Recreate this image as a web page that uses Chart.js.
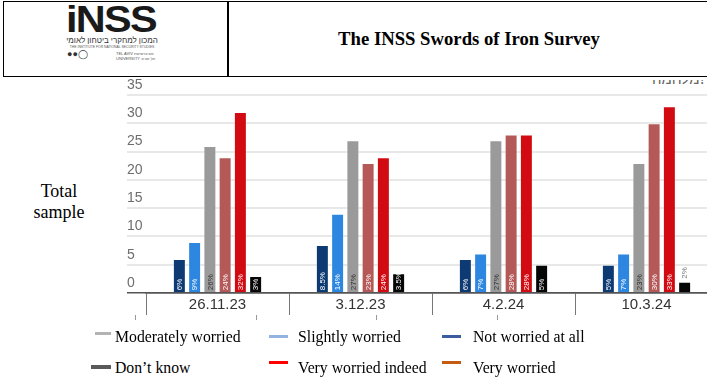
<!DOCTYPE html>
<html>
<head>
<meta charset="utf-8">
<script src="https://cdn.jsdelivr.net/npm/chart.js@4"></script>
<style>
  html, body { margin: 0; padding: 0; background: #fff; }
  body { width: 707px; height: 390px; overflow: hidden; position: relative; font-family: 'Liberation Serif', 'Times New Roman', serif; }
  .box { position: absolute; left: 3px; top: 1px; width: 720px; height: 74px; border: 1.5px solid #000; }
  .divider { position: absolute; left: 227px; top: 1px; width: 1.5px; height: 75px; background: #000; }
  .title { position: absolute; left: 228px; width: 482px; top: 28px; text-align: center; font-weight: bold; font-size: 18.7px; color: #000; }
  .logo { position: absolute; left: 66px; top: 4px; width: 94px; color: #1a1a1a; font-family: 'Liberation Sans', sans-serif; }
  .logo .big { font-size: 37px; font-weight: 900; letter-spacing: -1.5px; line-height: 31px; transform: scaleX(1.12); transform-origin: left; }
  .logo .heb { font-family: 'Noto Sans', sans-serif; font-size: 8px; line-height: 10px; direction: rtl; text-align: center; width: 92px; white-space: nowrap; color: #333; }
  .logo .eng { font-size: 3.4px; line-height: 5px; white-space: nowrap; color: #555; text-align: center; width: 92px; }
  .logo .dots { position: absolute; top: 45px; left: 1px; font-size: 9px; color: #333; }
  .logo .tau { position: absolute; top: 48px; left: 50px; font-size: 4px; line-height: 4.5px; color: #555; white-space: nowrap; }
  .cut { position: absolute; top: 80px; right: 1px; width: 55px; height: 7px; overflow: hidden; }
  .cut span { position: absolute; right: 0; top: -12px; font-family: 'Noto Sans', sans-serif; font-size: 15px; color: #666; direction: rtl; }
  .side { position: absolute; left: 22px; top: 181px; width: 74px; text-align: center; font-size: 18px; line-height: 21px; color: #000; }
  #wrap { position: absolute; left: 127px; top: 76px; }
  .lg { position: absolute; font-size: 17.5px; color: #000; white-space: nowrap; transform: scaleX(0.9); transform-origin: left; }
  .mk { position: absolute; height: 3px; }
  .tk { position: absolute; top: 315px; width: 1px; height: 5px; background: #999; }
</style>
</head>
<body>
<div class="box"></div>
<div class="divider"></div>
<div class="logo">
  <div class="big">iNSS</div>
  <div class="heb">המכון למחקרי ביטחון לאומי</div>
  <div class="eng">THE INSTITUTE FOR NATIONAL SECURITY STUDIES</div>
  <div class="dots">&#9679;&#9679;&#9711;</div>
  <div class="tau">TEL AVIV אוניברסיטת<br>UNIVERSITY תל אביב</div>
</div>
<div class="title">The INSS Swords of Iron Survey</div>
<div class="cut"><span>?מלחמה</span></div>
<div class="side">Total<br>sample</div>

<div id="wrap"><canvas id="chart" width="600" height="245"></canvas></div>

<div class="tk" style="left:135px"></div>
<div class="tk" style="left:256px"></div>
<div class="tk" style="left:376px"></div>
<div class="tk" style="left:497px"></div>

<div class="mk" style="left:95px;top:332px;width:16px;background:#b3b3b3"></div>
<div class="lg" style="left:115px;top:326px">Moderately worried</div>
<div class="mk" style="left:269px;top:335px;width:19px;background:#93b4e0"></div>
<div class="lg" style="left:298px;top:326px">Slightly worried</div>
<div class="mk" style="left:442px;top:335px;width:19px;background:#3b5c9e"></div>
<div class="lg" style="left:473px;top:326px">Not worried at all</div>
<div class="mk" style="left:91px;top:365px;width:20px;height:4px;background:#5a5a5a"></div>
<div class="lg" style="left:115px;top:357px">Don’t know</div>
<div class="mk" style="left:269px;top:361px;width:19px;background:#ff0000"></div>
<div class="lg" style="left:298px;top:357px">Very worried indeed</div>
<div class="mk" style="left:442px;top:361px;width:19px;background:#c55a11"></div>
<div class="lg" style="left:473px;top:357px">Very worried</div>

<script>
// survey dates
var dates = ['26.11.23', '3.12.23', '4.2.24', '10.3.24'];

// share of respondents per answer, %
var notWorried = [6, 8.5, 6, 5];
var slightlyWorried = [9, 14, 7, 7];
var moderatelyWorried = [26, 27, 27, 23];
var veryWorried = [24, 23, 28, 30];
var veryWorriedIndeed = [32, 24, 28, 33];
var dontKnow = [3, 3.5, 5, 2];

var yTicks = [0, 5, 10, 15, 20, 25, 30, 35];

var edge = 'rgba(255,255,255,0.3)';

/** value labels, rotated, at the foot of each bar */
var barLabels = {
  id: 'barLabels',
  afterDatasetsDraw: function(chart) {
    var ctx = chart.ctx;
    ctx.save();
    ctx.font = '8px "Liberation Sans", sans-serif';
    ctx.textBaseline = 'middle';
    ctx.textAlign = 'left';
    chart.data.datasets.forEach(function(ds, i) {
      var meta = chart.getDatasetMeta(i);
      meta.data.forEach(function(bar, j) {
        var txt = ds.data[j] + '%';
        var h = bar.base - bar.y;
        var y0 = bar.base - 2;
        ctx.fillStyle = ds.labelColor;
        // very short bar: label goes on top
        if (h < 14) {
          y0 = bar.y - 3;
          ctx.fillStyle = '#777';
        }
        ctx.save();
        ctx.translate(bar.x + 0.5, y0);
        ctx.rotate(-Math.PI / 2);
        ctx.fillText(txt, 0, 0);
        ctx.restore();
      });
    });
    ctx.restore();
  }
};

var ctx = document.getElementById('chart').getContext('2d');
var myChart = new Chart(ctx, {
  type: 'bar',
  data: {
    labels: dates,
    datasets: [
      { label: 'Not worried at all', data: notWorried, backgroundColor: '#0d3a73', labelColor: '#fff' },
      { label: 'Slightly worried', data: slightlyWorried, backgroundColor: '#2d86df', labelColor: '#fff' },
      { label: 'Moderately worried', data: moderatelyWorried, backgroundColor: '#9a9a9a', labelColor: '#333' },
      { label: 'Very worried', data: veryWorried, backgroundColor: '#b45858', labelColor: '#fff' },
      { label: 'Very worried indeed', data: veryWorriedIndeed, backgroundColor: '#d20a12', labelColor: '#fff' },
      { label: "Don't know", data: dontKnow, backgroundColor: '#060606', labelColor: '#fff' }
    ]
  },
  options: {
    responsive: false,
    animation: false,
    devicePixelRatio: 1,
    layout: { padding: { top: 19, right: 9, bottom: 3, left: 0 } },
    datasets: {
      bar: {
        categoryPercentage: 0.64,
        barPercentage: 0.85,
        borderWidth: 1,
        borderColor: edge
      }
    },
    plugins: {
      legend: { display: false },
      tooltip: { enabled: false }
    },
    scales: {
      x: {
        offset: true,
        grid: { offset: true, drawOnChartArea: false, tickLength: 22, color: '#777', lineWidth: 1 },
        border: { color: '#555', width: 1.5 },
        ticks: {
          padding: -19,
          maxRotation: 0,
          autoSkip: false,
          color: '#333',
          font: { family: "'Liberation Sans', sans-serif", size: 15 }
        },
        afterFit: function(s) { s.height = 25; s.paddingLeft = 0; s.paddingRight = 0; }
      },
      y: {
        min: yTicks[0],
        max: yTicks[yTicks.length - 1],
        afterBuildTicks: function(s) { s.ticks = yTicks.map(function(v) { return { value: v }; }); },
        grid: {
          tickLength: 19,
          color: function(c) { return c.tick.value === 0 ? '#555' : '#e8e8e8'; },
          lineWidth: function(c) { return c.tick.value === 0 ? 1.5 : 2; }
        },
        border: { display: false },
        ticks: {
          crossAlign: 'far',
          labelOffset: -10,
          padding: 0,
          color: '#6e6e6e',
          font: { family: "'Liberation Sans', sans-serif", size: 14 }
        },
        afterFit: function(s) { s.width = 19; s.paddingTop = 0; s.paddingBottom = 0; }
      }
    }
  },
  plugins: [barLabels]
});
</script>
</body>
</html>
